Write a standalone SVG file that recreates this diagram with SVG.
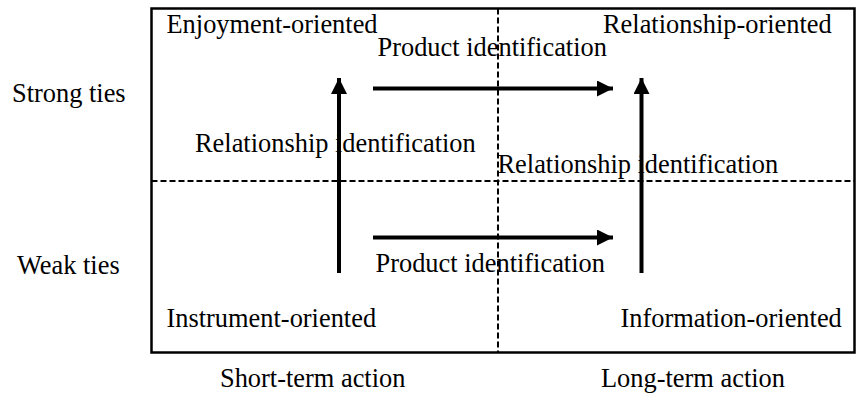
<svg xmlns="http://www.w3.org/2000/svg" width="857" height="394" viewBox="0 0 857 394">
<style>
text{font-family:"Liberation Serif","Times New Roman",serif;font-size:26.4px;fill:#000}
.frame{fill:none;stroke:#000;stroke-width:2.5}
.dash{fill:none;stroke:#000;stroke-width:2;stroke-dasharray:6 3}
.arrow{fill:none;stroke:#000;stroke-width:4;marker-end:url(#ah)}
</style>
<defs>
<marker id="ah" markerUnits="userSpaceOnUse" markerWidth="18" markerHeight="18" refX="16" refY="8" orient="auto">
<path d="M0,0 L16,8 L0,16 Z" fill="#000"/>
</marker>
</defs>
<g id="frame">
<rect class="frame" x="151.5" y="8.5" width="703" height="344"/>
<line class="dash" x1="498" y1="8.5" x2="498" y2="352.5"/>
<line class="dash" x1="151.5" y1="181" x2="854.5" y2="181"/>
</g>
<g id="axis-labels">
<text x="12" y="102">Strong ties</text>
<text x="17" y="274">Weak ties</text>
<text x="220" y="387">Short-term action</text>
<text x="601" y="387">Long-term action</text>
</g>
<g id="enjoyment"><text x="166.5" y="33">Enjoyment-oriented</text></g>
<g id="relationship"><text x="603" y="33">Relationship-oriented</text></g>
<g id="instrument"><text x="166.5" y="327">Instrument-oriented</text></g>
<g id="information"><text x="620.5" y="327">Information-oriented</text></g>
<g id="connectors">
<line class="arrow" x1="339" y1="273" x2="339" y2="78"/>
<line class="arrow" x1="641.5" y1="273" x2="641.5" y2="78"/>
<line class="arrow" x1="373" y1="88.5" x2="613" y2="88.5"/>
<line class="arrow" x1="373" y1="237.5" x2="613" y2="237.5"/>
<text x="377.5" y="55.5">Product identification</text>
<text x="375.5" y="271.5">Product identification</text>
<text x="195" y="151.5">Relationship identification</text>
<text x="497.5" y="173">Relationship identification</text>
</g>
</svg>
